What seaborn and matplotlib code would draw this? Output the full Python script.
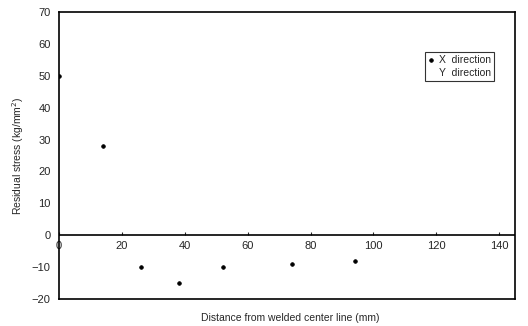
import numpy as np
import pandas as pd
import seaborn as sns
import matplotlib.pyplot as plt

# Data
distance_mm = [0, 14, 26, 38, 52, 74, 94]
stress_x = [50, 28, -10, -15, -10, -9, -8]
x_ticks = [0, 20, 40, 60, 80, 100, 120, 140]
y_ticks = [-20, -10, 0, 10, 20, 30, 40, 50, 60, 70]

df = pd.DataFrame({"distance": distance_mm, "stress": stress_x})

sns.set_style("white")
plt.rcParams["font.family"] = ["Liberation Sans", "DejaVu Sans"]

fig = plt.figure(figsize=(5.28, 3.26), dpi=100)
ax = fig.add_axes([59 / 528, 27 / 326, 456 / 528, 287 / 326])

sns.scatterplot(data=df, x="distance", y="stress", ax=ax, color="black",
                marker="o", s=7, edgecolor="black", linewidth=0.5,
                label="X  direction")
ax.plot([], [], " ", label="Y  direction")

ax.set_xlim(0, 145)
ax.set_ylim(-20, 70)
ax.axhline(0, color="black", lw=1.2)

for sp in ax.spines.values():
    sp.set_color("black")
    sp.set_linewidth(1.2)

ax.set_yticks(y_ticks)
ax.tick_params(axis="y", labelsize=8, length=0, pad=6)

# x tick labels sit just below the zero line
ax.set_xticks([])
sec = ax.secondary_xaxis(20 / 90)
sec.set_xticks(x_ticks)
sec.tick_params(labelsize=8, length=2, direction="in", pad=4)
sec.spines["bottom"].set_visible(False)

ax.set_xlabel("")
ax.set_ylabel("Residual stress (kg/mm$^{2}$)", fontsize=7.5, labelpad=4)
fig.text(290 / 528, 1 - 318 / 326, "Distance from welded center line (mm)",
         ha="center", va="center", fontsize=7.5)

leg = ax.legend(loc="upper right", bbox_to_anchor=(0.965, 0.88), fontsize=7.5,
                frameon=True, fancybox=False, edgecolor="black",
                handlelength=0.6, handletextpad=0.4, borderpad=0.3,
                labelspacing=0.3)
leg.get_frame().set_linewidth(0.8)

fig.savefig("out.png", dpi=100)
